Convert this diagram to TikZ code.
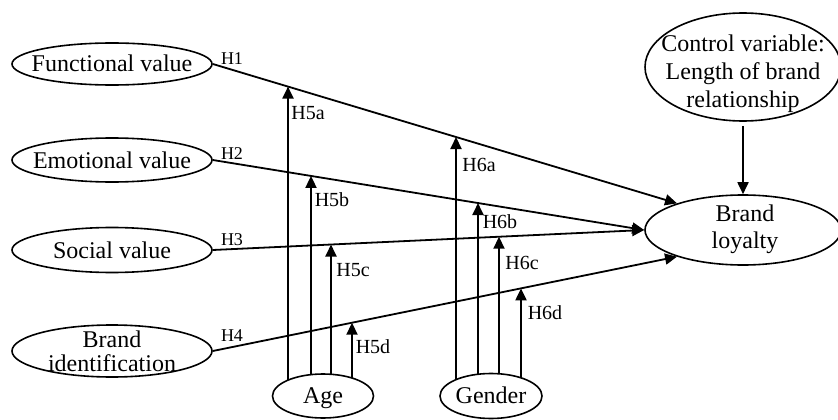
\documentclass[tikz,border=0pt]{standalone}
\usepackage{fontspec}
\setmainfont{Liberation Serif}
\usetikzlibrary{shapes.geometric,arrows.meta,calc,backgrounds,intersections}
\begin{document}
\begin{tikzpicture}[x=1pt,y=-1pt,
  el/.style={ellipse,draw,line width=1.6pt,fill=white,inner sep=0pt},
  txt/.style={font=\fontsize{24}{24}\selectfont,align=center,inner sep=0pt},
  hl/.style={font=\fontsize{18}{18}\selectfont,inner sep=0pt},
  ml/.style={font=\fontsize{20}{20}\selectfont,inner sep=0pt},
  arr/.style={line width=1.8pt,-{Triangle[length=12pt,width=11pt]}},
  varr/.style={line width=2pt,-{Triangle[length=12pt,width=11pt]}}]
\useasboundingbox (0,0) rectangle (838,420);

% ellipses
\node[el,minimum width=200pt,minimum height=42pt] (fv) at (112,64) {};
\node[el,minimum width=200pt,minimum height=44pt] (ev) at (112,160) {};
\node[el,minimum width=200pt,minimum height=45pt] (sv) at (112,250) {};
\node[el,minimum width=200pt,minimum height=52pt] (bi) at (112,351) {};
\node[el,minimum width=101pt,minimum height=44pt] (age) at (323,396) {};
\node[el,minimum width=102pt,minimum height=45pt] (gen) at (491,396) {};
\node[el,minimum width=196pt,minimum height=70pt] (bl) at (743,230) {};
\node[el,minimum width=196pt,minimum height=108pt] (cv) at (743,67) {};

% texts
\node[txt,anchor=base] (fvt) at (112,71) {Functional value};
\node[txt,anchor=base] (evt) at (112,168) {Emotional value};
\node[txt,anchor=base] (svt) at (112,258) {Social value};
\node[txt,font=\fontsize{24}{24}\selectfont] (bit) at (112,351) {Brand\\identification};
\node[txt,anchor=base] (aget) at (323,403) {Age};
\node[txt,anchor=base] (gent) at (491,403) {Gender};
\node[txt,font=\fontsize{24}{27}\selectfont] (blt) at (745,229) {Brand\\loyalty};
\node[txt,font=\fontsize{24}{28}\selectfont] (cvt) at (743,74) {Control variable:\\Length of brand\\relationship};

% main paths
\draw[arr,name path=p1] (fv.east) -- (bl.158);
\draw[arr,name path=p2] (ev.east) -- (bl.west);
\draw[arr,name path=p3] (sv.east) -- (bl.west);
\draw[arr,name path=p4] (bi.east) -- (bl.202);
\draw[arr,shorten <=4pt] (cv.south) -- (bl.north);

% vertical guides at fixed x
\path[name path=v5a] (288,0) -- (288,420);
\path[name path=v6a] (456,0) -- (456,420);
\path[name path=v5b] (311,0) -- (311,420);
\path[name path=v6b] (478,0) -- (478,420);
\path[name path=v5c] (331,0) -- (331,420);
\path[name path=v6c] (499,0) -- (499,420);
\path[name path=v5d] (352,0) -- (352,420);
\path[name path=v6d] (521,0) -- (521,420);
\path[name intersections={of=p1 and v5a,by=t5a}];
\path[name intersections={of=p1 and v6a,by=t6a}];
\path[name intersections={of=p2 and v5b,by=t5b}];
\path[name intersections={of=p2 and v6b,by=t6b}];
\path[name intersections={of=p3 and v5c,by=t5c}];
\path[name intersections={of=p3 and v6c,by=t6c}];
\path[name intersections={of=p4 and v5d,by=t5d}];
\path[name intersections={of=p4 and v6d,by=t6d}];

\begin{scope}[on background layer]
  \foreach \t in {t5a,t5b,t5c,t5d}{\draw[varr] (\t |- age.center) -- (\t);}
  \foreach \t in {t6a,t6b,t6c,t6d}{\draw[varr] (\t |- gen.center) -- (\t);}
\end{scope}

% labels
\node[hl] (h1) at (232,59) {H1};
\node[hl] (h2) at (232,154) {H2};
\node[hl] (h3) at (232,240) {H3};
\node[hl] (h4) at (232,336) {H4};
\node[ml] (h5a) at (308,113) {H5a};
\node[ml] (h5b) at (332,200) {H5b};
\node[ml] (h5c) at (353,270) {H5c};
\node[ml] (h5d) at (373,347) {H5d};
\node[ml] (h6a) at (479,165) {H6a};
\node[ml] (h6b) at (500,222) {H6b};
\node[ml] (h6c) at (522,263) {H6c};
\node[ml] (h6d) at (545,313) {H6d};
\end{tikzpicture}
\end{document}
